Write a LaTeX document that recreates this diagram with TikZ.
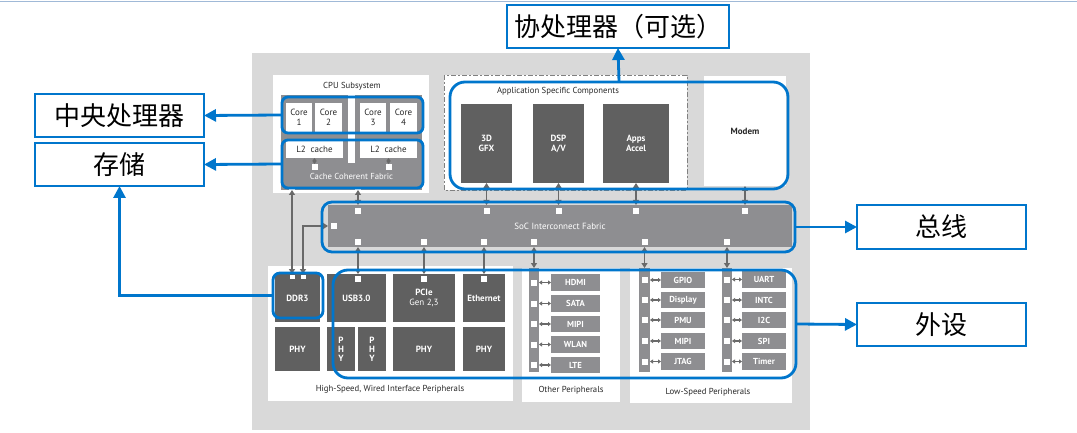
\documentclass[tikz,border=0pt]{standalone}
\usepackage{fontspec}
\setmainfont{PT Sans}
\newfontfamily\cjk{Noto Sans CJK SC}
\usetikzlibrary{arrows.meta}
\definecolor{hlblue}{RGB}{0,118,204}
\definecolor{bgrey}{RGB}{217,217,217}
\definecolor{dgrey}{RGB}{96,96,96}
\definecolor{mgrey}{RGB}{142,142,145}
\definecolor{agrey}{RGB}{105,105,105}
\definecolor{topline}{RGB}{160,185,215}
\definecolor{txtgrey}{RGB}{40,40,40}
\newcommand\pbox[7]{\node[#6,minimum width={(#4)-(#2)},minimum height={(#5)-(#3)}] (#1) at ({((#2)+(#4))/2},{((#3)+(#5))/2}) {#7};}
\tikzset{
  darkbox/.style={fill=dgrey,text=white,font=\fontsize{9}{10}\selectfont\bfseries,align=center},
  midbox/.style={fill=mgrey,text=white,font=\fontsize{8.7}{10}\selectfont\bfseries,align=center},
  barbox/.style={fill=mgrey},
  whitebox/.style={fill=white,text=txtgrey,font=\fontsize{9}{10}\selectfont,align=center},
  panel/.style={fill=white},
  hl/.style={draw=hlblue,line width=2.8pt},
  labelbox/.style={draw=hlblue,line width=2pt,fill=white,font=\cjk\fontsize{26}{30}\selectfont},
  bluearrow/.style={draw=hlblue,line width=2.8pt,-{Triangle[length=12pt,width=12pt]}},
  garrow/.style={draw=agrey,line width=1.6pt,{Triangle[length=5pt,width=6pt]}-{Triangle[length=5pt,width=6pt]}},
  sgarrow/.style={draw=agrey,line width=1.2pt,{Triangle[length=3pt,width=4pt]}-{Triangle[length=3pt,width=4pt]}},
  sq/.style={fill=white,minimum width=6pt,minimum height=6pt},
  lbl/.style={font=\fontsize{8.7}{10}\selectfont,text=txtgrey}
}
\begin{document}
\begin{tikzpicture}[x=1pt,y=-1pt,inner sep=0pt,outer sep=0pt]
\useasboundingbox (0,0) rectangle (1077,433);
\fill[white] (0,0) rectangle (1077,433);
\draw[topline,line width=1pt] (0,2) -- (1077,2);
% grey background
\fill[bgrey] (252,53) rectangle (810,430);

% CPU subsystem
\fill[white] (273,75) rectangle (429,193);
\node[lbl] (cputitle) at (352,86) {CPU Subsystem};
\fill[mgrey] (281,95) rectangle (348,190);
\fill[mgrey] (355,95) rectangle (422,190);
\pbox{ccf}{281}{163}{422}{190}{midbox,font=\fontsize{8.7}{10}\selectfont}{\raisebox{-2pt}{Cache Coherent Fabric}}
\pbox{core1}{286}{103}{312}{132}{whitebox}{Core\\1}
\pbox{core2}{315}{103}{342}{132}{whitebox}{Core\\2}
\pbox{core3}{360}{103}{386}{132}{whitebox}{Core\\3}
\pbox{core4}{390}{103}{417}{132}{whitebox}{Core\\4}
\pbox{l2a}{286}{141}{343}{158}{whitebox}{L2\ \ cache}
\pbox{l2b}{360}{141}{417}{158}{whitebox}{L2\ \ cache}
\node[sq] (sqa) at (314.5,167) {};
\node[sq] (sqb) at (388.5,167) {};
\draw[sgarrow] (l2a.south) -- (sqa.north);
\draw[sgarrow] (l2b.south) -- (sqb.north);
\node[fill=white,minimum width=6pt,minimum height=3pt] (cm1) at (292,188.5) {};
\node[fill=white,minimum width=6pt,minimum height=3pt] (cm2) at (358,188.5) {};

% Application specific
\draw[panel,draw=gray,line width=0.6pt,dash pattern=on 5pt off 2pt on 2pt off 2pt] (444,75) rectangle (687,190);
\node[lbl] (apptitle) at (558,91) {Application Specific Components};
\pbox{gfx}{461}{104}{512}{183}{darkbox}{3D\\GFX}
\pbox{dsp}{533}{104}{584}{183}{darkbox}{DSP\\A/V}
\pbox{apps}{603}{104}{669}{183}{darkbox}{Apps\\Accel}
\pbox{modem}{704}{76}{786}{186}{whitebox,font=\fontsize{9}{10}\selectfont\bfseries}{Modem}

% Bus
\pbox{bus}{328}{205}{792}{247}{midbox,font=\fontsize{9}{10}\selectfont}{SoC Interconnect Fabric}
\node[sq] (bt1) at (358,211) {};
\node[sq] (bt2) at (486.5,211) {};
\node[sq] (bt3) at (558.5,211) {};
\node[sq] (bt4) at (636,211) {};
\node[sq] (bt5) at (745,211) {};
\node[sq] (bb1) at (358,242) {};
\node[sq] (bb2) at (424,242) {};
\node[sq] (bb3) at (484,242) {};
\node[sq] (bb4) at (534,242) {};
\node[sq] (bb5) at (644.5,242) {};
\node[sq] (bb6) at (727,242) {};
\node[sq] (bl) at (334,226) {};

% High-speed peripherals
\fill[white] (268,266) rectangle (513,401);
\node[lbl] (hstitle) at (390,389) {High-Speed, Wired Interface Peripherals};
\pbox{ddr}{275}{274}{320}{322}{darkbox}{DDR3}
\pbox{usb}{327}{274}{386}{322}{darkbox}{USB3.0}
\pbox{pcie}{393}{274}{455}{322}{darkbox}{PCIe\\{\mdseries Gen 2,3}}
\pbox{eth}{463}{274}{505}{322}{darkbox}{Ethernet}
\pbox{phy1}{275}{327}{320}{371}{darkbox}{PHY}
\pbox{phy2}{327}{327}{355}{371}{darkbox,font=\fontsize{9}{9}\selectfont\bfseries}{P\\H\\Y}
\pbox{phy3}{358}{327}{386}{371}{darkbox,font=\fontsize{9}{9}\selectfont\bfseries}{P\\H\\Y}
\pbox{phy4}{393}{327}{455}{371}{darkbox}{PHY}
\pbox{phy5}{463}{327}{505}{371}{darkbox}{PHY}
\node[fill=white,minimum width=5pt,minimum height=4pt] (dsq1) at (292,277) {};
\node[fill=white,minimum width=5pt,minimum height=4pt] (dsq2) at (303,277) {};
\node[sq] (usq) at (358,279) {};
\node[sq] (psq) at (424,279) {};
\node[sq] (esq) at (484,279) {};

% Other peripherals
\fill[white] (522,268) rectangle (620,402);
\node[lbl] (optitle) at (571,390) {Other Peripherals};
\pbox{ob}{529}{268}{539}{372}{barbox}{}
\pbox{hdmi}{551}{274}{600}{291}{midbox}{HDMI}
\pbox{sata}{551}{295}{600}{312}{midbox}{SATA}
\pbox{mipia}{551}{316}{600}{332}{midbox}{MIPI}
\pbox{wlan}{551}{336}{600}{353}{midbox}{WLAN}
\pbox{lte}{551}{357}{600}{373}{midbox}{LTE}
\foreach \it in {hdmi,sata,mipia,wlan,lte}{
  \node[sq] (s-\it) at (\it.west -| ob.center) {};
  \draw[sgarrow] (\it.west -| ob.east) -- (\it.west);
}

% Low-speed peripherals
\fill[white] (630,268) rectangle (792,403);
\node[lbl] (lstitle) at (708,392) {Low-Speed Peripherals};
\pbox{lb1}{639}{268}{650}{372}{barbox}{}
\pbox{lb2}{722}{268}{732}{372}{barbox}{}
\pbox{gpio}{661}{272}{705}{288}{midbox}{GPIO}
\pbox{disp}{661}{292}{705}{308}{midbox}{Display}
\pbox{pmu}{661}{312}{705}{328}{midbox}{PMU}
\pbox{mipib}{661}{333}{705}{349}{midbox}{MIPI}
\pbox{jtag}{661}{353}{705}{370}{midbox}{JTAG}
\pbox{uart}{742}{271}{786}{288}{midbox}{UART}
\pbox{intc}{742}{292}{786}{308}{midbox}{INTC}
\pbox{itc}{742}{312}{786}{328}{midbox}{I2C}
\pbox{spi}{742}{333}{786}{349}{midbox}{SPI}
\pbox{timer}{742}{353}{786}{370}{midbox}{Timer}
\foreach \it in {gpio,disp,pmu,mipib,jtag}{
  \node[sq] (s-\it) at (\it.west -| lb1.center) {};
  \draw[sgarrow] (\it.west -| lb1.east) -- (\it.west);
}
\foreach \it in {uart,intc,itc,spi,timer}{
  \node[sq] (s-\it) at (\it.west -| lb2.center) {};
  \draw[sgarrow] (\it.west -| lb2.east) -- (\it.west);
}

% grey connectors
\draw[garrow] (bt1 |- ccf.south) -- (bt1 |- bus.north);
\draw[garrow] (bt2 |- gfx.south) -- (bt2 |- bus.north);
\draw[garrow] (bt3 |- dsp.south) -- (bt3 |- bus.north);
\draw[garrow] (bt4 |- apps.south) -- (bt4 |- bus.north);
\draw[garrow] (bt5 |- modem.south) -- (bt5 |- bus.north);
\draw[garrow] (bb1 |- bus.south) -- (bb1 |- usb.north);
\draw[garrow] (bb2 |- bus.south) -- (bb2 |- pcie.north);
\draw[garrow] (bb3 |- bus.south) -- (bb3 |- eth.north);
\draw[garrow] (bb4 |- bus.south) -- (bb4 |- ob.north);
\draw[garrow] (bb5 |- bus.south) -- (bb5 |- lb1.north);
\draw[garrow] (bb6 |- bus.south) -- (bb6 |- lb2.north);
\draw[garrow] (dsq1 |- ccf.south) -- (dsq1 |- ddr.north);
\draw[garrow] (bus.west) -| (dsq2 |- ddr.north);

% blue highlights
\pbox{cpuhl}{282}{97}{423}{133}{hl,rounded corners=6pt}{}
\pbox{cachehl}{282}{140}{423}{188}{hl,rounded corners=6pt}{}
\pbox{apphl}{450}{82}{788}{189}{hl,rounded corners=15pt}{}
\pbox{bushl}{322}{202}{795}{252}{hl,rounded corners=10pt}{}
\pbox{ddrhl}{273}{273}{323}{318}{hl,rounded corners=7pt}{}
\pbox{perhl}{333}{270}{796}{378}{hl,rounded corners=15pt}{}

% label boxes
\pbox{cpubox}{35}{94}{204}{137}{labelbox}{中央处理器}
\pbox{membox}{35}{143}{204}{186}{labelbox}{存储}
\pbox{copbox}{507}{5}{729}{48}{labelbox}{协处理器（可选）}
\pbox{busbox}{857}{205}{1026}{249}{labelbox}{总线}
\pbox{perbox}{857}{303}{1026}{346}{labelbox}{外设}

% blue arrows
\draw[bluearrow] (cpuhl.west) -- (cpubox.east);
\draw[bluearrow] (cachehl.west) -- (membox.east);
\draw[bluearrow] (ddrhl.west) -| (membox.south);
\draw[bluearrow] (apphl.north) -- (copbox.south);
\draw[bluearrow] (bushl.east) -- (busbox.west);
\draw[bluearrow] (perhl.east) -- (perbox.west);
\end{tikzpicture}
\end{document}
